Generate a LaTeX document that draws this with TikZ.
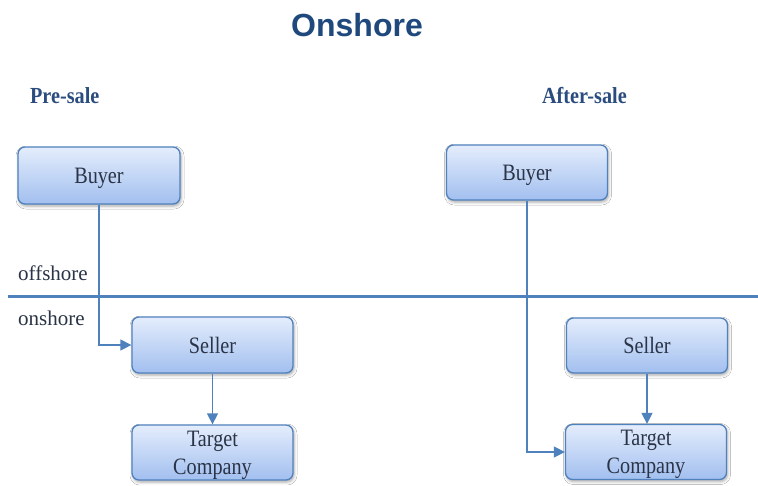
\documentclass[tikz,border=0pt]{standalone}
\usepackage{fontspec}
\usepackage{graphicx}
\setmainfont{Liberation Serif}
\newfontfamily\titlefont{Liberation Sans}
\usetikzlibrary{arrows.meta,shadows.blur}
\definecolor{navy}{HTML}{1F497D}
\definecolor{headblue}{HTML}{2B4C7E}
\definecolor{edge}{HTML}{4F81BD}
\definecolor{boxtop}{HTML}{E4EDFC}
\definecolor{boxbot}{HTML}{A2BFEF}
\definecolor{boxtext}{HTML}{2A3446}
% narrow setting of the box labels
\newcommand{\narrowtext}[1]{\scalebox{0.86}[1]{#1}}
\begin{document}
\begin{tikzpicture}[x=1pt,y=-1pt,
  party/.style={draw=edge, line width=1.3pt, rounded corners=7pt,
    top color=boxtop, bottom color=boxbot,
    minimum width=161pt, minimum height=56pt, inner sep=2pt,
    font=\fontsize{23.5}{28}\selectfont, text=boxtext, align=center, text depth=0pt,
    blur shadow={shadow xshift=1pt, shadow yshift=-2pt, shadow blur radius=3pt, shadow opacity=35}},
  link/.style={draw=edge, line width=1.4pt, -{Triangle[length=11pt,width=11pt]}},
  phase/.style={font=\bfseries\fontsize{23}{26}\selectfont, text=headblue, xscale=0.88, anchor=base west},
  zone/.style={font=\fontsize{21}{24}\selectfont, text=boxtext, anchor=base west, inner sep=0pt},
]
\path[use as bounding box, fill=white] (0,0) rectangle (758,485);

% headings
\node[font=\titlefont\bfseries\fontsize{32}{36}\selectfont, text=navy, anchor=base] (title) at (357,36) {Onshore};
\node[phase] (pre) at (27,103) {Pre-sale};
\node[phase] (after) at (539,103) {After-sale};

% offshore / onshore border
\coordinate (borderL) at (8,296.5);
\coordinate (borderR) at (758,296.5);
\draw[edge, line width=3pt] (borderL) -- (borderR);
\node[zone] (off) at (18,280) {offshore};
\node[zone] (on) at (18,325) {onshore};

% pre-sale structure
\node[party, minimum width=162pt, minimum height=57pt] (lbuyer) at (99,175.5) {\narrowtext{Buyer}};
\node[party] (lseller) at (212.5,345) {\narrowtext{Seller}};
\node[party, minimum height=55pt] (ltarget) at (212.5,452.5) {\narrowtext{Target}\\\narrowtext{Company}};

% after-sale structure
\node[party, minimum height=55pt] (rbuyer) at (527,172.5) {\narrowtext{Buyer}};
\node[party, minimum height=55pt] (rseller) at (647,345.5) {\narrowtext{Seller}};
\node[party, minimum height=55pt] (rtarget) at (646,452) {\narrowtext{Target}\\\narrowtext{Company}};

% ownership links
\draw[link] (lbuyer.south) |- (lseller.west);
\draw[link] (lseller.south) -- (ltarget.north);
\draw[link] (rbuyer.south) |- (rtarget.west);
\draw[link] (rseller.south) -- (rtarget.north -| rseller.south);
\end{tikzpicture}
\end{document}
